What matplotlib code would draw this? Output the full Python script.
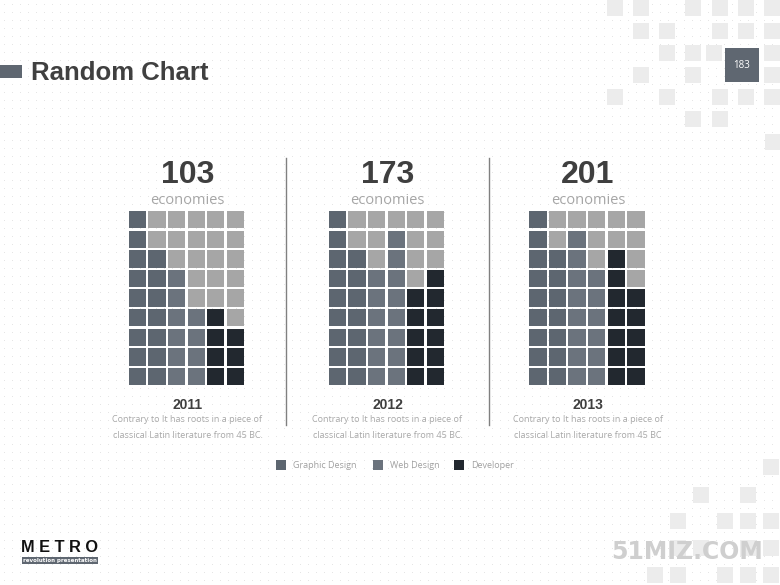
import matplotlib
matplotlib.use('Agg')
import matplotlib.pyplot as plt
from matplotlib.patches import Rectangle
import numpy as np

# data
years = ['2011', '2012', '2013']
totals = [103, 173, 201]
unit = 'economies'
captions = [
    ['Contrary to It has roots in a piece of', 'classical Latin literature from 45 BC.'],
    ['Contrary to It has roots in a piece of', 'classical Latin literature from 45 BC.'],
    ['Contrary to It has roots in a piece of', 'classical Latin literature from 45 BC'],
]
# waffle cells, top row first: G = Graphic Design, W = Web Design, K = Developer, L = empty
grid_2011 = ['GLLLLL', 'GLLLLL', 'GGLLLL', 'GGWLLL', 'GGWLLL',
             'GGWWKL', 'GGWWKK', 'GGWWKK', 'GGWWKK']
grid_2012 = ['GLLLLL', 'GLLWLL', 'GGLWLL', 'GGWWLK', 'GGWWKK',
             'GGWWKK', 'GGWWKK', 'GGWWKK', 'GGWWKK']
grid_2013 = ['GLLLLL', 'GLWLLL', 'GGWLKL', 'GGWWKL', 'GGWWKK',
             'GGWWKK', 'GGWWKK', 'GGWWKK', 'GGWWKK']
grids = [grid_2011, grid_2012, grid_2013]
legend_labels = ['Graphic Design', 'Web Design', 'Developer']
legend_codes = ['G', 'W', 'K']

colors = {'G': '#5d6670', 'W': '#6b737d', 'K': '#22282f', 'L': '#a6a6a6'}
slate = '#5f6771'

fig = plt.figure(figsize=(7.8, 5.85), dpi=100)
ax = fig.add_axes([0, 0, 1, 1])
ax.set_xlim(0, 780)
ax.set_ylim(585, 0)
ax.axis('off')

# dotted background
dx, dy = np.meshgrid(np.arange(4, 780, 8), np.arange(4, 585, 8))
ax.scatter(dx.ravel(), dy.ravel(), s=0.35, c='#dedede', linewidths=0, zorder=0)

# decorative squares, top right and bottom right
deco_top = [(607, 0), (633, 0), (685, 0), (712, 0), (738, 0), (764, 0),
            (633, 23), (659, 23), (712, 23), (738, 23), (764, 23),
            (659, 45), (685, 45), (706, 45), (764, 45),
            (633, 67), (685, 67), (764, 67),
            (607, 89), (659, 89), (712, 89), (738, 89), (764, 89),
            (685, 111), (712, 111), (765, 134)]
deco_bot = [(763, 459), (693, 487), (740, 487),
            (670, 513), (717, 513), (740, 513), (763, 513),
            (670, 540), (693, 540), (740, 540), (763, 540),
            (647, 567), (670, 567), (717, 567), (740, 567), (763, 567)]
for (x, y) in deco_top + deco_bot:
    ax.add_patch(Rectangle((x, y), 15.5, 16, color='#ececec', lw=0, zorder=1))

# title
ax.add_patch(Rectangle((0, 65), 22, 12.5, color=slate, lw=0, zorder=2))
ax.text(31, 73, 'Random Chart', fontsize=18.5, fontweight='bold', color='#404040',
        family='Liberation Sans', va='center', ha='left', zorder=3)

# page number
ax.add_patch(Rectangle((725, 48), 34, 34, color=slate, lw=0, zorder=2))
ax.text(742, 65, '183', fontsize=7, color='white', ha='center', va='center',
        family='Open Sans', zorder=3)

# waffles
pitch = 19.6
cell = 17.3
centers = [187.5, 387.5, 588]
top = 211
for cx, year, total, grid, cap in zip(centers, years, totals, grids, captions):
    x0 = cx - 3 * pitch
    for r, row in enumerate(grid):
        for c, code in enumerate(row):
            ax.add_patch(Rectangle((x0 + c * pitch, top + r * pitch), cell, cell,
                                   color=colors[code], lw=0, zorder=2))
    ax.text(cx, 175, str(total), fontsize=23, fontweight='bold', color='#3f3f3f',
            family='Liberation Sans', ha='center', va='center', zorder=3)
    ax.text(cx, 200, unit, fontsize=10.5, color='#a6a6a6', family='Open Sans',
            ha='center', va='center', zorder=3)
    ax.text(cx, 405, year, fontsize=10, fontweight='bold', color='#3f3f3f',
            family='Liberation Sans', ha='center', va='center', zorder=3)
    ax.text(cx, 419, cap[0], fontsize=6.5, color='#a8a8a8', family='Open Sans',
            ha='center', va='center', zorder=3)
    ax.text(cx, 436, cap[1], fontsize=6.5, color='#a8a8a8', family='Open Sans',
            ha='center', va='center', zorder=3)

# separators
for sx in [286, 489]:
    ax.plot([sx, sx], [158, 425], color='#808080', lw=1, zorder=2)

# legend
leg_x = [276, 373, 454]
for lx, lab, code in zip(leg_x, legend_labels, legend_codes):
    ax.add_patch(Rectangle((lx, 460), 10, 10, color=colors[code], lw=0, zorder=2))
    ax.text(lx + 17, 465, lab, fontsize=6.5, color='#a0a0a0', family='Open Sans',
            ha='left', va='center', zorder=3)

# logos
ax.text(21, 547, 'M E T R O', fontsize=11.8, fontweight='bold', color='#111111',
        family='Liberation Sans', ha='left', va='center', zorder=3)
ax.add_patch(Rectangle((22, 557), 76, 7, color=slate, lw=0, zorder=2))
ax.text(60, 560.5, 'revolution presentation', fontsize=4, color='white',
        fontweight='bold', family='DejaVu Sans', ha='center', va='center', zorder=3)
ax.text(687, 552, '51MIZ.COM', fontsize=17, fontweight='bold', color='#cfcfcf',
        family='DejaVu Sans', ha='center', va='center', zorder=3)

fig.savefig('out.png', dpi=100, facecolor='white')
